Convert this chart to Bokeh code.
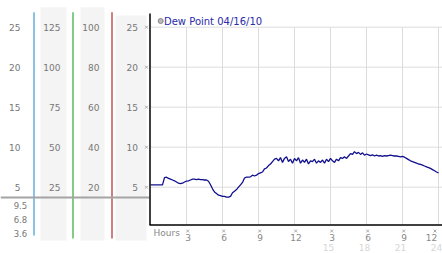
from bokeh.plotting import figure
from bokeh.models import Range1d
from bokeh.core.properties import value
from bokeh.embed import file_html
from bokeh.resources import INLINE

# ---------------- data ----------------
SAMPLE_MINUTES = list(range(0, 24 * 60 + 1, 10))
DEW_POINT = [
    5.3, 5.3, 5.3, 5.3, 5.3, 5.3,          # 00 h
    5.3, 6.2, 6.25, 6.1, 6.0, 5.9,         # 01 h
    5.8, 5.65, 5.5, 5.45, 5.5, 5.65,       # 02 h
    5.75, 5.8, 5.9, 6.0, 6.0, 5.95,        # 03 h
    6.0, 5.95, 5.95, 5.9, 5.9, 5.75,       # 04 h
    5.3, 4.8, 4.4, 4.2, 4.0, 3.95,         # 05 h
    3.85, 3.85, 3.75, 3.75, 3.85, 4.3,     # 06 h
    4.5, 4.7, 5.0, 5.3, 5.6, 6.15,         # 07 h
    6.25, 6.25, 6.3, 6.5, 6.4, 6.5,        # 08 h
    6.7, 6.8, 6.9, 7.3, 7.4, 7.7,          # 09 h
    7.9, 8.2, 8.5, 8.6, 8.3, 8.7,          # 10 h
    8.1, 8.6, 8.8, 8.2, 8.5, 8.0,          # 11 h
    8.6, 8.3, 8.7, 8.0, 8.4, 8.1,          # 12 h
    8.5, 7.9, 8.3, 8.2, 8.5, 8.0,          # 13 h
    8.3, 8.1, 8.4, 8.0, 8.5, 8.2,          # 14 h
    8.6, 8.3, 8.1, 8.5, 8.3, 8.7,          # 15 h
    8.6, 8.8, 8.6, 8.9, 9.2, 9.1,          # 16 h
    9.45, 9.2, 9.35, 9.1, 9.3, 9.0,        # 17 h
    9.15, 9.05, 8.95, 9.05, 8.9, 9.0,      # 18 h
    8.9, 8.95, 8.85, 8.95, 8.9, 8.95,      # 19 h
    9.0, 8.95, 8.9, 8.9, 8.85, 8.8,        # 20 h
    8.85, 8.75, 8.6, 8.45, 8.3, 8.2,       # 21 h
    8.1, 8.0, 7.9, 7.85, 7.75, 7.65,       # 22 h
    7.55, 7.45, 7.35, 7.2, 7.05, 6.9,      # 23 h
    6.8,                                   # 24 h
]
Y_TICKS = [5, 10, 15, 20, 25]
Y_LABELS_A = ["5", "10", "15", "20", "25"]
Y_LABELS_B = ["25", "50", "75", "100", "125"]
Y_LABELS_C = ["20", "40", "60", "80", "100"]
Y_LABELS_D = ["5", "10", "15", "20", "25"]
MINI_LABELS = ["9.5", "6.8", "3.6"]
HOUR_TICKS = [3, 6, 9, 12, 15, 18, 21, 24]
HOUR_LABELS = ["3", "6", "9", "12", "3", "6", "9", "12"]
CLOCK_TICKS = [15, 18, 21, 24]
CLOCK_LABELS = ["15", "18", "21", "24"]
LEGEND_TEXT = "Dew Point 04/16/10"
X_TITLE = "Hours"

# ---------------- canvas mapping ----------------
W, H = 442, 253
PX_PER_H = 12.0
X0_PX = 150.0
PX_PER_U = 8.0
Y25_PX = 26.7
x_start = -X0_PX / PX_PER_H
x_end = x_start + W / PX_PER_H
y_top = 25 + Y25_PX / PX_PER_U
y_bot = y_top - H / PX_PER_U


def fx(px):
    return x_start + px / PX_PER_H


def fy(py):
    return y_top - py / PX_PER_U


FONT = value("DejaVu Sans")

p = figure(width=W, height=H, x_range=Range1d(x_start, x_end),
           y_range=Range1d(y_bot, y_top), output_backend="svg",
           toolbar_location=None, x_axis_type=None, y_axis_type=None,
           min_border=0, outline_line_color=None, title=None,
           background_fill_color="white", border_fill_color="white")

# column backgrounds
p.quad(left=[fx(40), fx(80), fx(115)], right=[fx(66), fx(104), fx(146)],
       top=[fy(6.7), fy(6.7), fy(15)], bottom=[fy(240)] * 3,
       fill_color="#f4f4f4", line_color=None)

# coloured scale lines
for xp, yb, col in [(33.5, 235, "#3a9cd0"), (72.5, 238, "#33aa33"),
                    (111.5, 238, "#b02a2a")]:
    p.segment(x0=[fx(xp)], y0=[fy(11.7)], x1=[fx(xp)], y1=[fy(yb)],
              line_color=col, line_width=1.2)

# gray separator on the left
p.segment(x0=[fx(0)], y0=[fy(197)], x1=[fx(149)], y1=[fy(197)],
          line_color="#a4a4a4", line_width=2)

# grid lines
p.segment(x0=[0] * len(Y_TICKS), y0=Y_TICKS, x1=[x_end] * len(Y_TICKS),
          y1=Y_TICKS, line_color="#dcdcdc", line_width=1)
p.segment(x0=HOUR_TICKS, y0=[fy(224)] * len(HOUR_TICKS), x1=HOUR_TICKS,
          y1=[max(Y_TICKS)] * len(HOUR_TICKS), line_color="#dcdcdc",
          line_width=1)

# data line
hours = [m / 60 for m in SAMPLE_MINUTES]
p.line(hours, DEW_POINT, line_color="#10108c", line_width=1.3)

# axes lines
p.segment(x0=[fx(149.5)], y0=[fy(13)], x1=[fx(149.5)], y1=[fy(224.5)],
          line_color="black", line_width=1.5)
p.segment(x0=[fx(149)], y0=[fy(224.5)], x1=[x_end], y1=[fy(224.5)],
          line_color="black", line_width=1.5)

# y tick labels (4 columns)
for xp, labels in [(20, Y_LABELS_A), (60, Y_LABELS_B), (99, Y_LABELS_C),
                   (137.5, Y_LABELS_D)]:
    p.text(x=[fx(xp)] * len(Y_TICKS), y=Y_TICKS, text=labels,
           text_font=FONT, text_font_size="9px", text_color="#777777",
           text_align="right", text_baseline="middle")

# y tick marks
p.scatter(x=[fx(146)] * len(Y_TICKS), y=Y_TICKS, marker="x", size=4,
          line_color="#aaaaaa", line_width=1)

# mini scale labels
p.text(x=[fx(26.7)] * 3, y=[fy(204.5), fy(218.7), fy(232.5)],
       text=MINI_LABELS, text_font=FONT, text_font_size="8.5px",
       text_color="#777777", text_align="right", text_baseline="middle")

# x labels
x_off = [1.5] * (len(HOUR_TICKS) - 1) + [-7]
p.text(x=[t + o / PX_PER_H for t, o in zip(HOUR_TICKS, x_off)],
       y=[fy(236.5)] * len(HOUR_TICKS), text=HOUR_LABELS, text_font=FONT,
       text_font_size="9px", text_color="#888888", text_align="center",
       text_baseline="middle")
m_off = [1.2] * (len(HOUR_TICKS) - 1) + [-3.5]
p.scatter(x=[t + o / PX_PER_H for t, o in zip(HOUR_TICKS, m_off)],
          y=[fy(230.5)] * len(HOUR_TICKS), marker="x", size=4,
          line_color="#aaaaaa", line_width=1)
p.text(x=[t - 2 / PX_PER_H for t in CLOCK_TICKS],
       y=[fy(246.7)] * len(CLOCK_TICKS), text=CLOCK_LABELS, text_font=FONT,
       text_font_size="9px", text_color="#d6d6d6", text_align="center",
       text_baseline="middle")
p.text(x=[fx(153)], y=[fy(232)], text=[X_TITLE], text_font=FONT,
       text_font_size="9px", text_color="#888888", text_align="left",
       text_baseline="middle")

# legend
p.scatter(x=[fx(160.2)], y=[fy(20.5)], marker="circle", size=5,
          fill_color="#bbbbbb", line_color="#888888", line_width=1)
p.text(x=[fx(163.5)], y=[fy(20.5)], text=[LEGEND_TEXT], text_font=FONT,
       text_font_size="10px", text_color="#2a2aaa", text_align="left",
       text_baseline="middle")

open("out.html", "w").write(file_html(p, INLINE))
